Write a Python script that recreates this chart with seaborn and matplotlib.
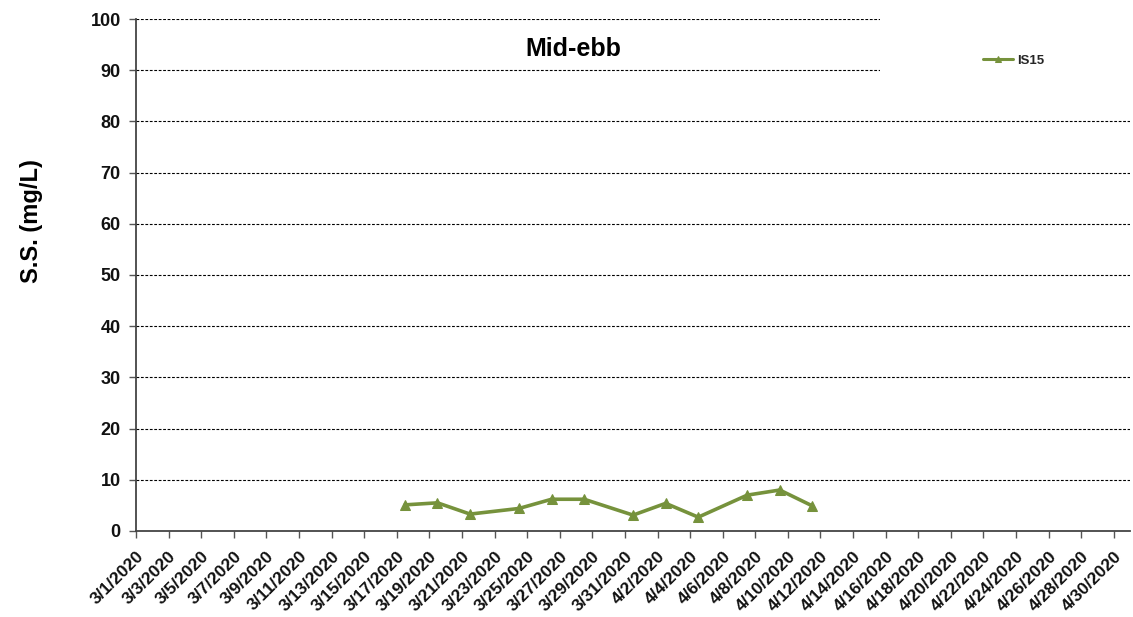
import matplotlib
matplotlib.use("Agg")
import matplotlib.pyplot as plt
from matplotlib.patches import Rectangle
import matplotlib.transforms as mtransforms
import pandas as pd
import seaborn as sns

# Suspended solids at mid-ebb, station IS15
sample_dates = ["2020-03-17", "2020-03-19", "2020-03-21", "2020-03-24", "2020-03-26",
                "2020-03-28", "2020-03-31", "2020-04-02", "2020-04-04", "2020-04-07",
                "2020-04-09", "2020-04-11"]
ss_values = [5.1, 5.5, 3.3, 4.4, 6.2, 6.2, 3.1, 5.4, 2.7, 7.0, 8.0, 4.9]
station = "IS15"
title_text = "Mid-ebb"
y_label = "S.S. (mg/L)"
y_ticks = list(range(0, 101, 10))

sns.set_theme(style="white")
plt.rcParams["font.family"] = ["Liberation Sans", "DejaVu Sans"]

df = pd.DataFrame({"date": pd.to_datetime(sample_dates), "ss": ss_values, "station": station})
# Each sample sits in the middle of its day slot
df["pos"] = df["date"] + pd.Timedelta(hours=12)

fig = plt.figure(figsize=(11.33, 6.17), dpi=100)
ax = fig.add_axes([0.12, 0.1394, 0.8775, 0.8298])

line_color = "#76923C"
sns.lineplot(data=df, x="pos", y="ss", hue="station", palette=[line_color], ax=ax,
             marker="^", markersize=7.5, markeredgecolor=line_color, linewidth=2.6,
             legend=True, zorder=5)

start = pd.Timestamp("2020-03-01")
end = pd.Timestamp("2020-05-01")
ax.set_xlim(start, end)
ax.set_ylim(0, 100)

tick_dates = pd.date_range("2020-03-01", "2020-04-30", freq="2D")
ax.set_xticks(tick_dates)
ax.set_xticklabels([f"{d.month}/{d.day}/{d.year}" for d in tick_dates],
                   rotation=45, ha="right", va="top", rotation_mode="anchor",
                   fontsize=12.5, fontweight="bold", color="#111111")
shift = mtransforms.ScaledTranslation(9 / 100, 0, fig.dpi_scale_trans)
for lbl in ax.get_xticklabels():
    lbl.set_transform(lbl.get_transform() + shift)

ax.set_yticks(y_ticks)
ax.set_yticklabels([str(v) for v in y_ticks], fontsize=13, fontweight="bold", color="#111111")

ax.tick_params(axis="both", which="major", direction="out", length=5, width=1,
               color="#555555", bottom=True, left=True)
ax.tick_params(axis="x", pad=7.5)
ax.tick_params(axis="y", pad=6)

for y in y_ticks[1:]:
    ax.axhline(y, color="black", linewidth=0.8, linestyle=(0, (2.5, 1.5)), zorder=1)

for side in ["top", "right"]:
    ax.spines[side].set_visible(False)
for side in ["left", "bottom"]:
    ax.spines[side].set_color("#444444")
    ax.spines[side].set_linewidth(1.3)

# Blank legend area in the upper right
ax.add_patch(Rectangle((0.7485, 0.842), 0.2515, 0.2, transform=ax.transAxes,
                       facecolor="white", edgecolor="none", zorder=2, clip_on=False))

leg = ax.legend(loc="center left", bbox_to_anchor=(0.852, 0.918), frameon=False,
                prop={"weight": "bold", "size": 9.5}, handlelength=2.3, handletextpad=0.25,
                borderpad=0, borderaxespad=0)
for h in leg.legend_handles:
    h.set_linewidth(2.2)
    h.set_markersize(5)

ax.text(0.4395, 0.942, title_text, transform=ax.transAxes, ha="center", va="center",
        fontsize=18, fontweight="bold", color="black")

ax.set_xlabel("")
ax.set_ylabel(y_label, fontsize=17, fontweight="bold", color="black")
ax.yaxis.label.set_va("center")
ax.yaxis.set_label_coords(-0.1046, 0.6055)

fig.savefig("out.png", dpi=100, facecolor="white")
